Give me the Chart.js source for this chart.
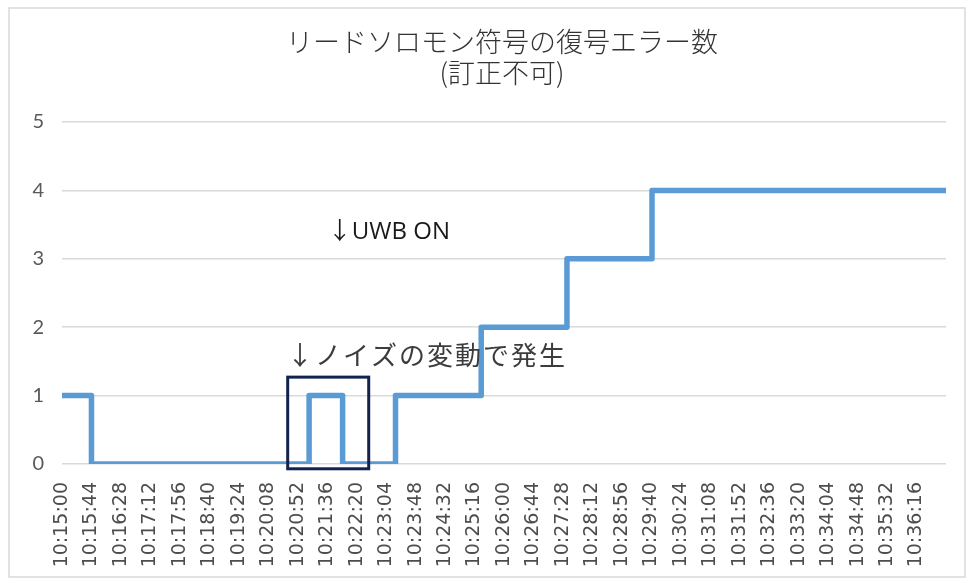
<!DOCTYPE html>
<html lang="ja">
<head>
<meta charset="utf-8">
<title>リードソロモン符号の復号エラー数</title>
<script src="https://cdn.jsdelivr.net/npm/chart.js@4"></script>
<style>
  html, body { margin: 0; padding: 0; background: #fff; }
  #wrap { position: relative; width: 969px; height: 583px; }
</style>
</head>
<body>
<div id="wrap"><canvas id="errChart"></canvas></div>
<script>
// times where the error count changes, and the count from that time on
var changeTimes = ['10:15:00', '10:15:44', '10:21:09', '10:21:59', '10:23:18', '10:25:26', '10:27:34', '10:29:41', '10:37:00'];
var errorCounts = [1, 0, 1, 0, 1, 2, 3, 4, 4];

var tickLabels = ['10:15:00', '10:15:44', '10:16:28', '10:17:12', '10:17:56', '10:18:40', '10:19:24', '10:20:08',
    '10:20:52', '10:21:36', '10:22:20', '10:23:04', '10:23:48', '10:24:32', '10:25:16', '10:26:00', '10:26:44',
    '10:27:28', '10:28:12', '10:28:56', '10:29:40', '10:30:24', '10:31:08', '10:31:52', '10:32:36', '10:33:20',
    '10:34:04', '10:34:48', '10:35:32', '10:36:16'];

var titleLines = ['リードソロモン符号の復号エラー数', '(訂正不可)'];

var notes = [
    { text: '↓UWB ON', at: '10:21:37', value: 3.39 },
    { text: '↓ノイズの変動で発生', at: '10:20:36', value: 1.59 }
];
var noiseBox = { from: '10:20:37', to: '10:22:38', low: -0.07, high: 1.27 };

function toSec(t) {
    var p = t.split(':');
    return (+p[0] - 10) * 3600 + (+p[1] - 15) * 60 + (+p[2]);
}

var points = changeTimes.map(function (t, i) {
    return { x: toSec(t), y: errorCounts[i] };
});

// white background, thin outer frame and the two-line title
var framePlugin = {
    id: 'frame',
    beforeDraw: function (chart) {
        var ctx = chart.ctx;
        ctx.save();
        ctx.fillStyle = '#fff';
        ctx.fillRect(0, 0, chart.width, chart.height);
        ctx.strokeStyle = '#d9d9d9';
        ctx.lineWidth = 1.5;
        ctx.strokeRect(9, 8, chart.width - 13, chart.height - 14);

        ctx.fillStyle = '#333';
        ctx.textAlign = 'center';
        ctx.textBaseline = 'middle';
        ctx.font = '300 27px "Noto Sans CJK JP"';
        ctx.fillText(titleLines[0], 502, 42);
        ctx.fillText(titleLines[1], 502, 73);
        ctx.restore();
    }
};

var notesPlugin = {
    id: 'notes',
    afterDatasetsDraw: function (chart) {
        var ctx = chart.ctx, xs = chart.scales.x, ys = chart.scales.y;
        ctx.save();
        // box around the noise spike
        var x1 = xs.getPixelForValue(toSec(noiseBox.from));
        var x2 = xs.getPixelForValue(toSec(noiseBox.to));
        var y1 = ys.getPixelForValue(noiseBox.high);
        var y2 = ys.getPixelForValue(noiseBox.low);
        ctx.strokeStyle = '#13224f';
        ctx.lineWidth = 3;
        ctx.strokeRect(x1, y1, x2 - x1, y2 - y1);

        ctx.textBaseline = 'middle';
        ctx.textAlign = 'left';
        ctx.fillStyle = '#1a1a1a';
        ctx.font = '24px "Open Sans", "Noto Sans CJK JP"';
        ctx.fillText(notes[0].text, xs.getPixelForValue(toSec(notes[0].at)), ys.getPixelForValue(notes[0].value));

        ctx.fillStyle = '#3c3c3c';
        ctx.font = '26px "Noto Sans CJK JP"';
        ctx.letterSpacing = '2px';
        ctx.fillText(notes[1].text, xs.getPixelForValue(toSec(notes[1].at)), ys.getPixelForValue(notes[1].value));
        ctx.restore();
    }
};

var chart = new Chart(document.getElementById('errChart'), {
    type: 'line',
    data: {
        datasets: [{
            data: points,
            stepped: 'before',
            borderColor: '#5b9bd5',
            borderWidth: 5.5,
            borderJoinStyle: 'round',
            pointRadius: 0,
            fill: false
        }]
    },
    options: {
        responsive: true,
        maintainAspectRatio: false,
        animation: false,
        layout: {
            padding: { left: 10, right: 23, top: 122, bottom: 0 }
        },
        plugins: {
            legend: { display: false },
            tooltip: { enabled: false },
            title: { display: false }
        },
        scales: {
            x: {
                type: 'linear',
                min: toSec(changeTimes[0]),
                max: toSec(changeTimes[changeTimes.length - 1]),
                grid: { display: false },
                border: { display: false },
                afterBuildTicks: function (scale) {
                    scale.ticks = tickLabels.map(function (l) { return { value: toSec(l) }; });
                },
                afterFit: function (scale) { scale.height = 119; },
                ticks: {
                    autoSkip: false,
                    maxRotation: 90,
                    minRotation: 90,
                    padding: 10,
                    color: '#4d4d4d',
                    font: { family: 'DejaVu Sans', size: 19 },
                    callback: function (value, index) { return tickLabels[index]; }
                }
            },
            y: {
                min: 0,
                max: 5,
                border: { display: false },
                grid: { color: '#d9d9d9', lineWidth: 1.5, drawTicks: false },
                afterFit: function (scale) { scale.width = 52; },
                ticks: {
                    stepSize: 1,
                    padding: 18,
                    color: '#595959',
                    font: { family: 'Lato', size: 20 }
                }
            }
        }
    },
    plugins: [framePlugin, notesPlugin]
});
</script>
</body>
</html>
